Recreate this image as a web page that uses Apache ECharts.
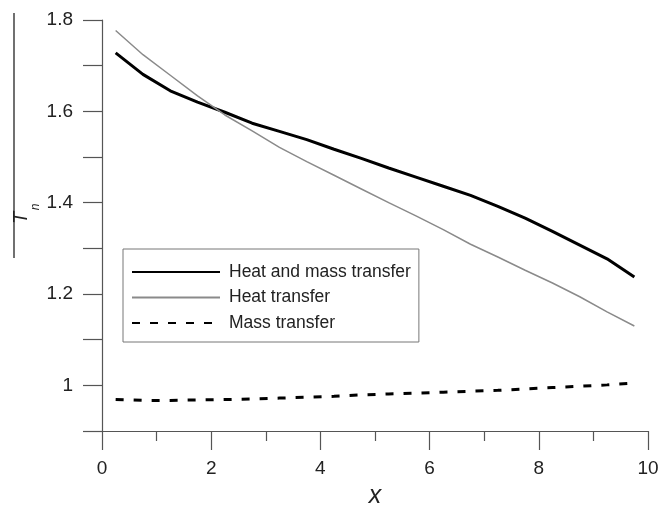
<!DOCTYPE html>
<html>
<head>
<meta charset="utf-8">
<script src="https://cdn.jsdelivr.net/npm/echarts@6/dist/echarts.min.js"></script>
<style>html,body{margin:0;padding:0;background:#fff;}#c{width:668px;height:507px;}</style>
</head>
<body>
<div id="c"></div>
<script>
const xs = [0.25,0.75,1.25,1.75,2.25,2.75,3.25,3.75,4.25,4.75,5.25,5.75,6.25,6.75,7.25,7.75,8.25,8.75,9.25,9.75];
const heatAndMass = [1.728,1.681,1.645,1.620,1.598,1.574,1.556,1.538,1.517,1.497,1.476,1.456,1.436,1.416,1.392,1.366,1.337,1.307,1.277,1.237];
const heatOnly = [1.777,1.724,1.679,1.634,1.592,1.557,1.521,1.490,1.460,1.430,1.400,1.371,1.341,1.309,1.281,1.252,1.224,1.194,1.161,1.130];
const massOnly = [0.969,0.967,0.967,0.968,0.969,0.970,0.972,0.974,0.976,0.979,0.981,0.983,0.985,0.987,0.989,0.992,0.995,0.998,1.001,1.005];
const seriesNames = ['Heat and mass transfer','Heat transfer','Mass transfer'];

const pair = arr => xs.map((x,i)=>[x,arr[i]]);
const font = 'Liberation Sans, Arial, sans-serif';
const axisCol = '#555';

const chart = echarts.init(document.getElementById('c'));
chart.setOption({
  animation:false,
  backgroundColor:'#fff',
  grid:{left:102,right:20,top:20,bottom:76,containLabel:false,outerBoundsMode:'none'},
  legend:{
    orient:'vertical', left:123, top:249,
    data:seriesNames,
    borderColor:'#777', borderWidth:1,
    padding:[14,8,10,8],
    itemWidth:88, itemHeight:14, itemGap:7.5,
    itemStyle:{opacity:0},
    textStyle:{fontSize:17.5,fontFamily:font,color:'#222',padding:[0,0,0,4]}
  },
  xAxis:{
    type:'value', min:0, max:10, interval:2,
    name:'x', nameLocation:'middle', nameGap:53,
    nameTextStyle:{fontSize:25,fontStyle:'italic',fontFamily:font,color:'#222'},
    axisLine:{lineStyle:{color:axisCol,width:1.2}},
    axisTick:{show:true,length:19,lineStyle:{color:axisCol,width:1.2}},
    minorTick:{show:true,splitNumber:2,length:10,lineStyle:{color:axisCol,width:1.2}},
    axisLabel:{fontSize:19,fontFamily:font,color:'#222',margin:28},
    splitLine:{show:false}
  },
  yAxis:{
    type:'value', min:0.9, max:1.8, interval:0.1,
    axisLine:{show:true,lineStyle:{color:axisCol,width:1.2}},
    axisTick:{show:true,length:19,lineStyle:{color:axisCol,width:1.2}},
    axisLabel:{fontSize:19,fontFamily:font,color:'#222',margin:29,
      formatter:function(v){const k=Math.round(v*10);return k%2===0?String(k/10):'';}},
    splitLine:{show:false}
  },
  graphic:[
    {type:'line',shape:{x1:14,y1:13,x2:14,y2:258},style:{stroke:'#111',lineWidth:1.2}},
    {type:'text',x:21,y:218,rotation:Math.PI/2,
      style:{text:'T',font:'italic 20px '+font,fill:'#222',align:'center',verticalAlign:'middle'}},
    {type:'text',x:36,y:207,rotation:Math.PI/2,
      style:{text:'n',font:'italic 12px '+font,fill:'#222',align:'center',verticalAlign:'middle'}}
  ],
  series:[
    {name:seriesNames[0],type:'line',data:pair(heatAndMass),symbol:'none',
      lineStyle:{color:'#000',width:3},itemStyle:{color:'#000'}},
    {name:seriesNames[1],type:'line',data:pair(heatOnly),symbol:'none',
      lineStyle:{color:'#8a8a8a',width:1.5},itemStyle:{color:'#8a8a8a'}},
    {name:seriesNames[2],type:'line',data:pair(massOnly),symbol:'none',
      lineStyle:{color:'#000',width:3,type:[8,10]},itemStyle:{color:'#000'}}
  ]
});
</script>
</body>
</html>
